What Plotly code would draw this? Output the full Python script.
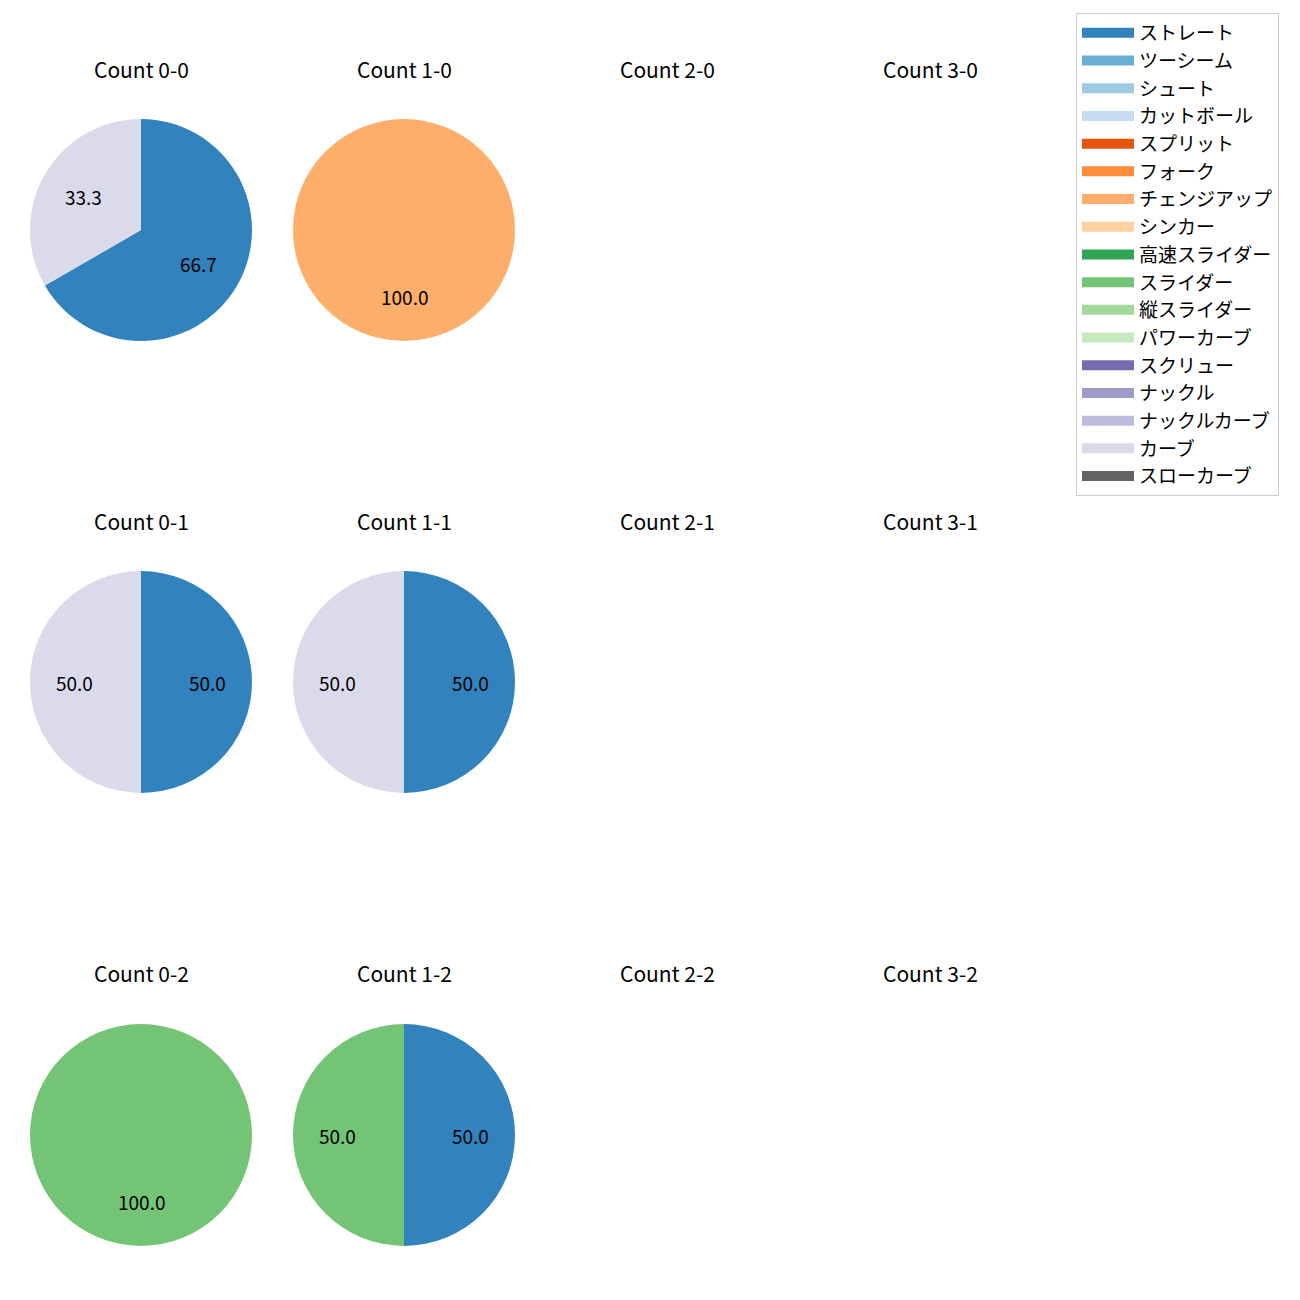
import math
import plotly.graph_objects as go

# ---- data ----
pitch_types = ["ストレート", "ツーシーム", "シュート", "カットボール", "スプリット", "フォーク",
               "チェンジアップ", "シンカー", "高速スライダー", "スライダー", "縦スライダー",
               "パワーカーブ", "スクリュー", "ナックル", "ナックルカーブ", "カーブ", "スローカーブ"]
pitch_colors = ["#3182bd", "#6baed6", "#9ecae1", "#c6dbef", "#e6550d", "#fd8d3c",
                "#fdae6b", "#fdd0a2", "#31a354", "#74c476", "#a1d99b", "#c7e9c0",
                "#756bb1", "#9e9ac8", "#bcbddc", "#dadaeb", "#636363"]

count_titles = [["Count 0-0", "Count 1-0", "Count 2-0", "Count 3-0"],
                ["Count 0-1", "Count 1-1", "Count 2-1", "Count 3-1"],
                ["Count 0-2", "Count 1-2", "Count 2-2", "Count 3-2"]]

pie_0_0_labels = ["ストレート", "カーブ"];       pie_0_0_values = [2, 1]
pie_1_0_labels = ["チェンジアップ"];             pie_1_0_values = [1]
pie_0_1_labels = ["ストレート", "カーブ"];       pie_0_1_values = [1, 1]
pie_1_1_labels = ["ストレート", "カーブ"];       pie_1_1_values = [1, 1]
pie_0_2_labels = ["スライダー"];                 pie_0_2_values = [1]
pie_1_2_labels = ["ストレート", "スライダー"];   pie_1_2_values = [1, 1]

# (row, col) -> (labels, counts)
pies = {
    (0, 0): (pie_0_0_labels, pie_0_0_values),
    (0, 1): (pie_1_0_labels, pie_1_0_values),
    (1, 0): (pie_0_1_labels, pie_0_1_values),
    (1, 1): (pie_1_1_labels, pie_1_1_values),
    (2, 0): (pie_0_2_labels, pie_0_2_values),
    (2, 1): (pie_1_2_labels, pie_1_2_values),
}

# ---- layout geometry (pixels, page has an 8px body offset) ----
W = H = 1300
OFF = 8
col_cx = [141 - OFF, 404 - OFF, 667 - OFF, 930 - OFF]
row_cy = [230 - OFF, 682 - OFF, 1135 - OFF]
R = 111
title_y = [69 - OFF, 521 - OFF, 973 - OFF]
FONT = "Noto Sans CJK JP"
color_map = dict(zip(pitch_types, pitch_colors))

fig = go.Figure()
annotations = []

for (r, c), (labels, values) in pies.items():
    tot = sum(values)
    cx, cy = col_cx[c], row_cy[r]
    fig.add_trace(go.Pie(
        labels=labels, values=values, textinfo="none",
        marker=dict(colors=[color_map[l] for l in labels], line=dict(width=0)),
        sort=False, direction="clockwise", rotation=0,
        domain=dict(x=[(cx - R) / W, (cx + R) / W], y=[1 - (cy + R) / H, 1 - (cy - R) / H]),
        showlegend=False, hoverinfo="label+percent",
    ))
    # percentage labels at 0.6 radius along each wedge's mid-angle
    cum = 0
    for v in values:
        mid = 90 - 360 * (cum + v / 2) / tot
        cum += v
        px = cx + 0.6 * R * math.cos(math.radians(mid))
        py = cy - 0.6 * R * math.sin(math.radians(mid))
        annotations.append(dict(
            text=f"{v / tot * 100:.1f}", x=px / W, y=1 - py / H,
            xref="paper", yref="paper", xanchor="center", yanchor="middle",
            showarrow=False, font=dict(family=FONT, size=19, color="black")))

# legend entries (thick line swatches look like matplotlib patches)
for name, col in zip(pitch_types, pitch_colors):
    fig.add_trace(go.Scatter(x=[None], y=[None], name=name, mode="lines",
                             line=dict(color=col, width=14), showlegend=True))

for r in range(3):
    for c in range(4):
        annotations.append(dict(
            text=count_titles[r][c], x=col_cx[c] / W, y=1 - title_y[r] / H,
            xref="paper", yref="paper", xanchor="center", yanchor="middle",
            showarrow=False, font=dict(family=FONT, size=21, color="black")))

fig.update_layout(
    width=W, height=H, margin=dict(l=0, r=0, t=0, b=0),
    paper_bgcolor="white", plot_bgcolor="white",
    xaxis=dict(visible=False), yaxis=dict(visible=False),
    annotations=annotations,
    font=dict(family=FONT, size=19, color="black"),
    legend=dict(x=(1076 - OFF) / W, y=1 - (13 - OFF) / H, xanchor="left", yanchor="top",
                bordercolor="#cccccc", borderwidth=1, bgcolor="white",
                font=dict(family=FONT, size=19, color="black"),
                itemwidth=52),
)

fig.write_html("out.html")
